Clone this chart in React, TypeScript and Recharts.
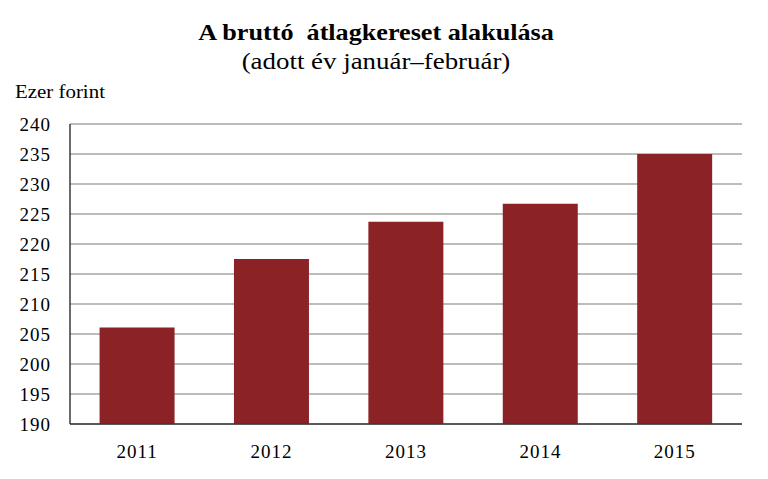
import { BarChart, Bar, XAxis, YAxis, CartesianGrid } from "recharts";

const years = ["2011", "2012", "2013", "2014", "2015"];
const wages = [206.1, 217.5, 223.7, 226.7, 235.0];
const yTicks = [190, 195, 200, 205, 210, 215, 220, 225, 230, 235, 240];

const data = years.map((year, i) => ({ year, wage: wages[i] }));

const serif = '"Liberation Serif", "Times New Roman", serif';
const barColor = "#8b2326";
const borderColor = "#3a3a3a";

export default function App() {
  return (
    <div
      style={{
        position: "absolute",
        left: 0,
        top: 0,
        width: 768,
        height: 479,
        background: "#fff",
        fontFamily: serif,
      }}
    >
      {/* Titles */}
      <div
        style={{
          position: "absolute",
          top: 19,
          left: 0,
          width: 752,
          textAlign: "center",
          fontSize: 24,
          fontWeight: "bold",
          color: "#000",
          whiteSpace: "pre",
          transform: "scaleX(1.09)",
          transformOrigin: "375px 0",
        }}
      >
        {"A bruttó  átlagkereset alakulása"}
      </div>
      <div
        style={{
          position: "absolute",
          top: 48,
          left: 0,
          width: 752,
          textAlign: "center",
          fontSize: 24,
          color: "#000",
          transform: "scaleX(1.12)",
          transformOrigin: "376px 0",
        }}
      >
        (adott év január–február)
      </div>
      <div
        style={{
          position: "absolute",
          top: 81,
          left: 15,
          fontSize: 19,
          color: "#000",
          transform: "scaleX(1.1)",
          transformOrigin: "0 0",
        }}
      >
        Ezer forint
      </div>

      <BarChart
        width={768}
        height={479}
        data={data}
        margin={{ top: 124, right: 26, bottom: 25, left: 0 }}
        barCategoryGap="22%"
      >
        <CartesianGrid vertical={false} stroke="#a6a6a6" strokeWidth={1.5} />
        <XAxis
          dataKey="year"
          axisLine={{ stroke: borderColor, strokeWidth: 1.5 }}
          tickLine={false}
          tick={{ fill: "#000", fontSize: 19, fontFamily: serif, letterSpacing: 1 }}
          tickMargin={15}
          height={30}
        />
        <XAxis
          xAxisId="top"
          dataKey="year"
          orientation="top"
          axisLine={{ stroke: borderColor, strokeWidth: 1.5 }}
          tickLine={false}
          tick={false}
          height={0}
        />
        <YAxis
          domain={[190, 240]}
          ticks={yTicks}
          interval={0}
          axisLine={{ stroke: borderColor, strokeWidth: 1.5 }}
          tickLine={false}
          tick={{ fill: "#000", fontSize: 19, fontFamily: serif, letterSpacing: 1 }}
          tickMargin={13}
          width={70}
        />
        <YAxis
          yAxisId="right"
          orientation="right"
          domain={[190, 240]}
          axisLine={{ stroke: borderColor, strokeWidth: 1.5 }}
          tickLine={false}
          tick={false}
          width={0}
        />
        <Bar dataKey="wage" fill={barColor} isAnimationActive={false} />
      </BarChart>
    </div>
  );
}
